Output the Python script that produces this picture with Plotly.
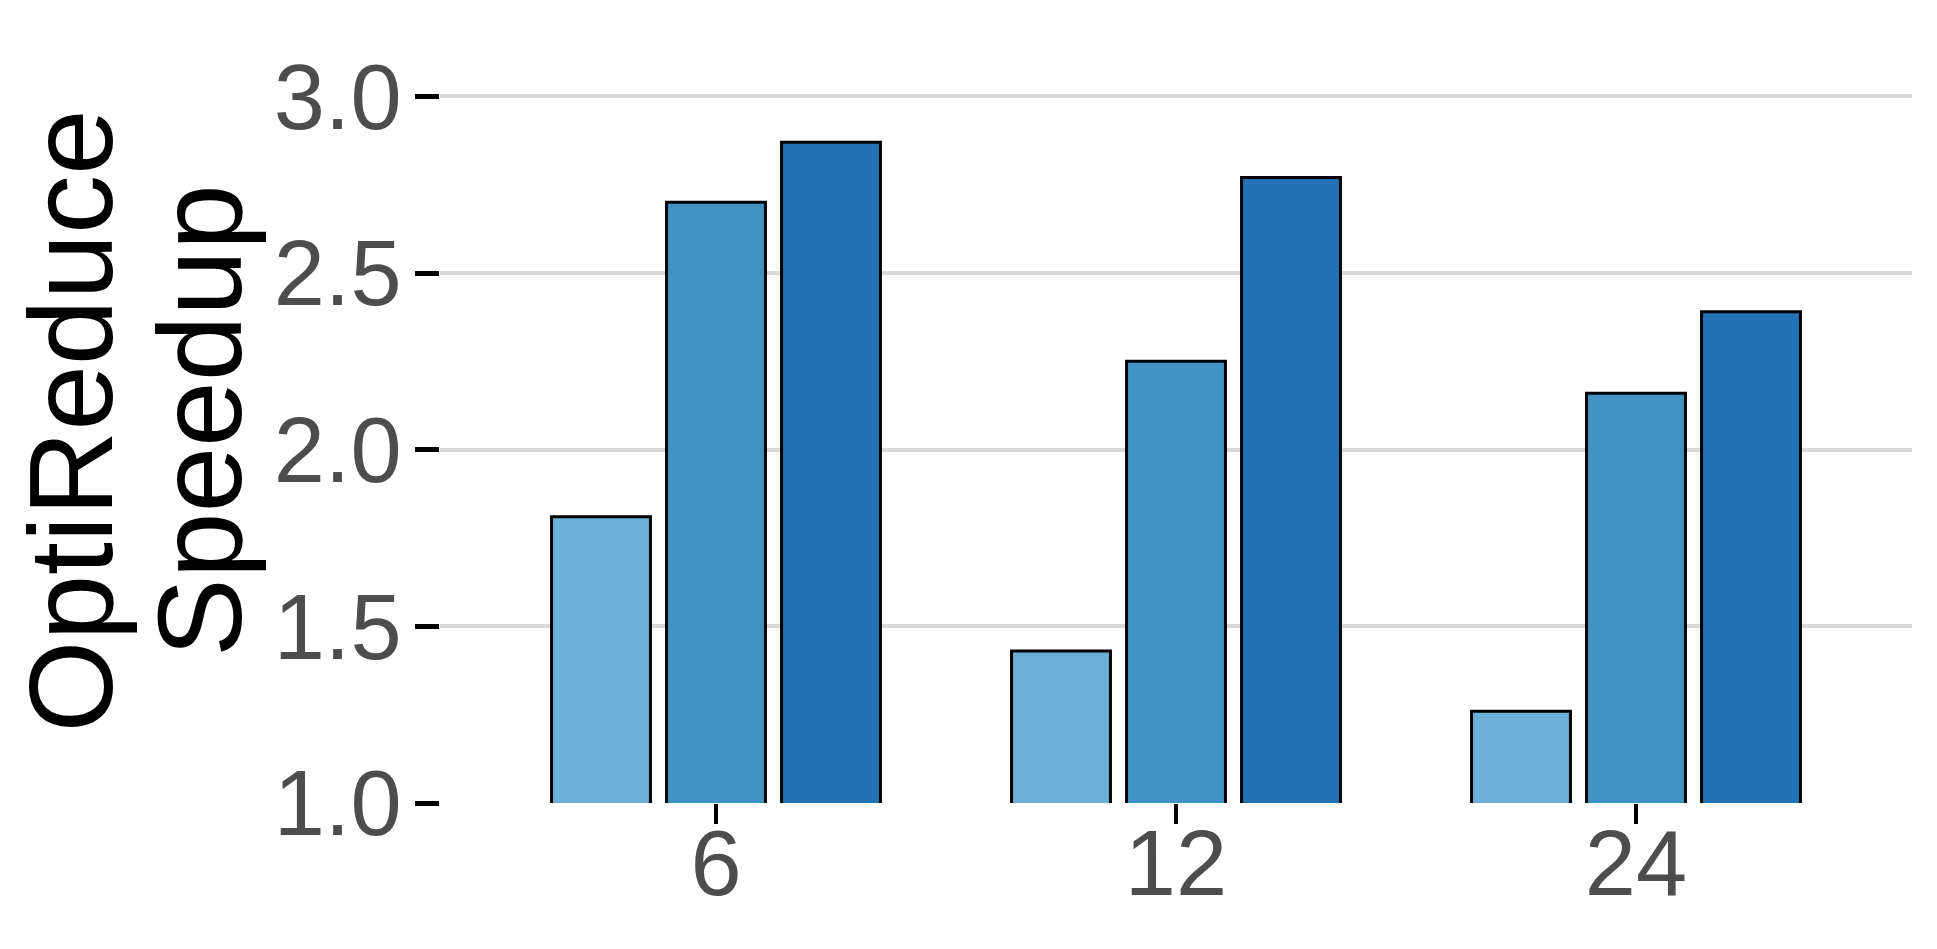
import plotly.graph_objects as go

# Data
categories = ["6", "12", "24"]
series_names = ["Low", "Mid", "High"]
low_vals = [1.81, 1.43, 1.26]
mid_vals = [2.70, 2.25, 2.16]
high_vals = [2.87, 2.77, 2.39]
y_ticks = [1.0, 1.5, 2.0, 2.5, 3.0]

colors = ["#6baed6", "#4292c6", "#2171b5"]
font_family = "Liberation Sans, Arial, sans-serif"

fig = go.Figure()

for name, vals, color in zip(series_names, [low_vals, mid_vals, high_vals], colors):
    fig.add_trace(go.Bar(
        x=categories,
        y=vals,
        name=name,
        marker=dict(color=color, line=dict(color="black", width=3)),
        showlegend=False,
    ))

# Two-line y axis title as separate annotations for tight line spacing
fig.add_annotation(
    text="OptiReduce", xref="paper", yref="paper",
    x=-0.251, y=0.515, textangle=-90, showarrow=False,
    xanchor="center", yanchor="middle",
    font=dict(family=font_family, size=118, color="black"),
)
fig.add_annotation(
    text="Speedup", xref="paper", yref="paper",
    x=-0.163, y=0.515, textangle=-90, showarrow=False,
    xanchor="center", yanchor="middle",
    font=dict(family=font_family, size=118, color="black"),
)

fig.update_layout(
    barmode="group",
    bargap=0.25,
    bargroupgap=0.14,
    plot_bgcolor="white",
    paper_bgcolor="white",
    margin=dict(l=432, r=17, t=53, b=138),
    font=dict(family=font_family, color="#4d4d4d"),
    xaxis=dict(
        type="category",
        range=[-0.6, 2.6],
        automargin=False,
        showgrid=False,
        zeroline=False,
        showline=False,
        ticks="outside",
        ticklen=20,
        tickwidth=4,
        tickcolor="black",
        ticklabelstandoff=-39,
        tickfont=dict(size=92, color="#4d4d4d"),
    ),
    yaxis=dict(
        range=[1.0, 3.1],
        tickvals=y_ticks,
        tickformat=".1f",
        automargin=False,
        showgrid=True,
        gridcolor="#d9d9d9",
        gridwidth=4,
        zeroline=False,
        showline=False,
        ticks="outside",
        ticklen=24,
        tickwidth=5,
        tickcolor="black",
        ticklabelstandoff=-5,
        tickfont=dict(size=92, color="#4d4d4d"),
    ),
)

fig.write_html("out.html")
